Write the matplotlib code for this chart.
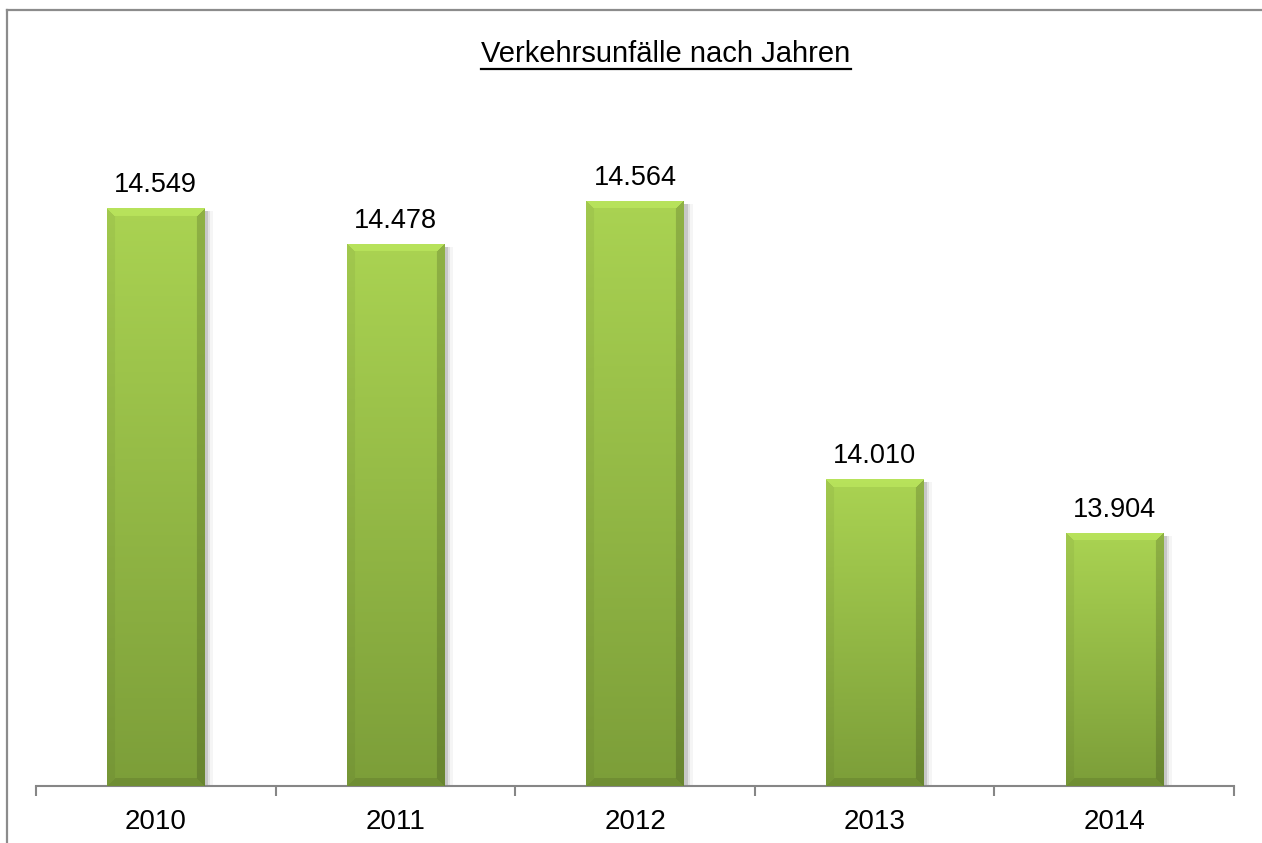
import matplotlib
matplotlib.use("Agg")
import matplotlib.pyplot as plt
import numpy as np
from matplotlib.colors import to_rgb
from matplotlib.lines import Line2D
from matplotlib.patches import Rectangle

years = ["2010", "2011", "2012", "2013", "2014"]
accidents = [14549, 14478, 14564, 14010, 13904]
y_min, y_max = 13400, 14800

plt.rcParams['font.family'] = ['Liberation Sans', 'DejaVu Sans']

W, H = 1262, 843
fig = plt.figure(figsize=(W / 100, H / 100), dpi=100)
ax = fig.add_axes([36 / W, 1 - 786 / H, (1234 - 36) / W, (786 - 82) / H])
ax.set_xlim(-0.5, len(years) - 0.5)
ax.set_ylim(y_min, y_max)

x = np.arange(len(years))
bar_w = 0.405
bars = ax.bar(x, accidents, width=bar_w, color='none', edgecolor='none', zorder=3)


def bar_image(hpx, wpx, b=8):
    # vertical gradient plus a soft bevel on the edges
    top = np.array(to_rgb('#aad352'))
    bot = np.array(to_rgb('#7c9e39'))
    t = np.linspace(0, 1, hpx)[:, None, None]
    img = np.repeat(top * (1 - t) + bot * t, wpx, axis=1)
    yy, xx = np.mgrid[0:hpx, 0:wpx]
    rx = wpx - 1 - xx
    by = hpx - 1 - yy
    top_m = (yy < b) & (xx >= yy) & (rx >= yy)
    right_m = (rx < b) & (rx < yy) & (rx <= by)
    left_m = (xx < b) & (xx < yy) & (xx <= by)
    bot_m = (by < b) & (by < xx) & (by < rx)
    img[top_m] = np.clip(img[top_m] * 1.05 + 0.02, 0, 1)
    img[right_m] = img[right_m] * 0.84
    img[left_m] = img[left_m] * 0.95
    img[bot_m] = img[bot_m] * 0.9
    return img


px_x = ax.transData.transform((1, 0))[0] - ax.transData.transform((0, 0))[0]
px_y = ax.transData.transform((0, 1))[1] - ax.transData.transform((0, 0))[1]

for xi, v, rect in zip(x, accidents, bars):
    x0, x1 = xi - bar_w / 2, xi + bar_w / 2
    hpx = int(round((v - y_min) * px_y))
    wpx = int(round(bar_w * px_x))
    # soft shadow on the right
    for k, a in zip([2, 4, 7], [0.12, 0.07, 0.04]):
        ax.add_patch(Rectangle((x0 + 2 / px_x, y_min), bar_w + k / px_x,
                               v - y_min - 3 / px_y, color='black', alpha=a,
                               lw=0, zorder=2))
    im = ax.imshow(bar_image(hpx, wpx), extent=(x0, x1, y_min, v),
                   aspect='auto', interpolation='bilinear', zorder=3)
    im.set_clip_path(rect)
    ax.annotate(f"{v:,}".replace(",", "."), (xi, v), xytext=(0, 11.5),
                textcoords='offset points', ha='center', va='baseline',
                fontsize=19.5, color='black')

ax.set_xlim(-0.5, len(years) - 0.5)
ax.set_ylim(y_min, y_max)

for s in ['top', 'left', 'right']:
    ax.spines[s].set_visible(False)
ax.spines['bottom'].set_color('#868686')
ax.spines['bottom'].set_linewidth(1.5)
ax.set_yticks([])
ax.set_xticks(x, years, fontsize=20)
ax.set_xticks(np.arange(-0.5, len(years)), minor=True)
ax.tick_params(axis='x', which='major', length=0, pad=16.5)
ax.tick_params(axis='x', which='minor', length=7, width=1.5, color='#868686',
               direction='out')

title = fig.text(666 / W, 1 - 62 / H, "Verkehrsunfälle nach Jahren",
                 ha='center', va='baseline', fontsize=21)
fig.canvas.draw()
bb = title.get_window_extent()
fig.add_artist(Line2D([bb.x0 / W, bb.x1 / W], [1 - 69 / H, 1 - 69 / H],
                      color='black', lw=1.6, transform=fig.transFigure))

# chart frame (top and left edges visible)
fig.add_artist(Line2D([7 / W, 7 / W], [0, 1 - 10 / H], color='#8c8c8c',
                      lw=1.6, transform=fig.transFigure))
fig.add_artist(Line2D([7 / W, 1], [1 - 10 / H, 1 - 10 / H], color='#8c8c8c',
                      lw=1.6, transform=fig.transFigure))

fig.savefig("out.png", dpi=100)
